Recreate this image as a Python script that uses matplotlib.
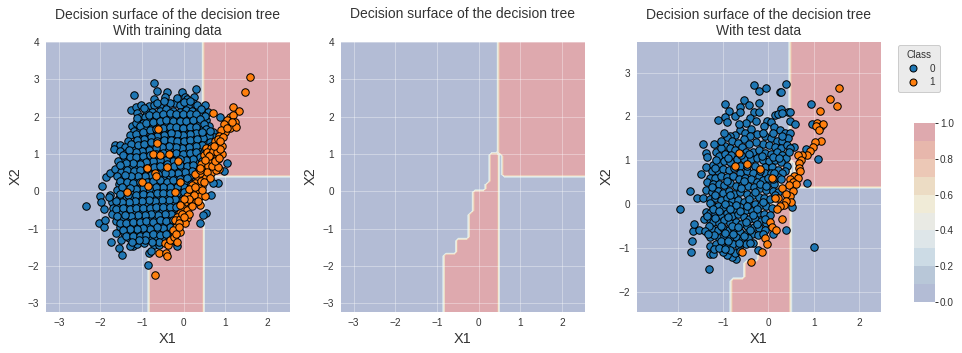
import numpy as np
import matplotlib
matplotlib.use("Agg")
import matplotlib.pyplot as plt
from matplotlib.colors import ListedColormap
from matplotlib.lines import Line2D

plt.rcParams.update({
    "font.family": ["Liberation Sans", "DejaVu Sans"],
    "axes.facecolor": "white", "axes.edgecolor": "white", "axes.grid": True,
    "grid.color": "white", "grid.linewidth": 1.0, "axes.linewidth": 1.0,
    "text.color": ".2", "axes.labelcolor": ".2",
    "xtick.color": ".2", "ytick.color": ".2",
    "xtick.major.size": 0, "ytick.major.size": 0,
})

TITLE_TREE = "Decision surface of the decision tree"
SUB_TITLES = ["With training data", "", "With test data"]
CLASS_LABELS = ["0", "1"]

# visible colours of the ten contour bands, low to high
band_colors = ["#B3BCD5", "#B8C7D8", "#CCDBE5", "#DEE6E9", "#E9EAE4",
               "#F0EBD7", "#ECDCC4", "#ECC8B6", "#E7B7AC", "#DEA9AE"]

# class-1 staircase of the tree: (upper y limit of step, left x of step)
stair_top = [-1.71, -1.30, -0.60, 0.0, 0.25, 1.0]
stair_left = [-0.80, -0.50, -0.21, -0.10, 0.21, 0.31]
band_right = 0.47
upper_left = 0.52
upper_notch_left = 0.59
upper_bottom = 0.43

train_class0 = [
(-2.35,-0.40),(-2.04,-0.86),(-1.92,-0.95),(-1.89,-0.77),(-2.00,-0.14),(-1.98,-0.29),(-1.92,-0.48),(-1.96,0.13),
(-1.87,0.37),(-1.78,0.48),(-1.65,0.59),(-1.65,1.24),(-1.53,1.23),(-1.68,1.13),(-1.74,-1.35),(-1.55,-1.51),
(-1.49,-1.70),(-1.21,-1.47),(-1.12,-1.42),(-0.96,-1.38),(-0.85,-1.99),(-0.84,-1.67),(-0.17,-1.47),(0.39,-0.86),
(0.53,-0.59),(0.47,-0.64),(0.65,-0.09),(0.83,0.22),(0.71,0.22),(0.96,0.54),(1.03,0.77),(0.87,1.99),
(0.58,2.12),(0.50,2.30),(0.29,2.74),(-0.03,2.67),(-0.41,2.66),(-0.71,2.91),(-0.63,2.68),(-1.20,2.58),
(-1.27,2.18),(-1.15,2.26),(-1.03,2.31),(-1.11,2.10),(-1.25,1.75),(-0.72,2.47),(-0.84,2.29),(-0.45,2.54),
(-0.22,2.38),(0.02,2.54),(0.07,2.47),(0.25,2.53),(0.22,2.36),(0.11,2.28),(-0.08,2.31),(-0.33,2.38),
(-0.56,2.32),(-0.72,2.30),(-0.90,2.16),(-1.05,1.98),(-0.92,2.00),(-0.75,2.12),(-0.58,2.15),(-0.42,2.20),
(-0.25,2.16),(-0.10,2.12),(0.06,2.18),(0.20,2.14),(0.36,2.18),(0.44,2.06),(0.30,1.98),(0.14,1.97),
(-0.02,1.96),(-0.18,1.98),(-0.34,2.00),(-0.50,1.97),(-0.66,1.96),(-0.82,1.90),(-0.98,1.82),(-1.14,1.83),
(-1.20,1.62),(-1.06,1.64),(-0.90,1.70),(-0.74,1.76),(-0.58,1.78),(-0.41,1.81),(-0.26,1.80),(-0.09,1.78),
(0.07,1.80),(0.22,1.81),(0.38,1.83),(0.54,1.92),(0.60,1.74),(0.47,1.68),(0.30,1.64),(0.14,1.62),
(-0.02,1.60),(-0.18,1.62),(-0.33,1.64),(-0.49,1.60),(-0.65,1.58),(-0.81,1.53),(-0.97,1.47),(-1.13,1.45),
(-1.29,1.52),(-1.34,1.36),(-1.18,1.30),(-1.02,1.32),(-0.87,1.36),(-0.71,1.40),(-0.55,1.43),(-0.39,1.46),
(-0.23,1.44),(-0.07,1.42),(0.08,1.46),(0.24,1.47),(0.40,1.50),(0.56,1.55),(0.70,1.58),(0.72,1.46),
(0.53,1.36),(0.37,1.32),(0.21,1.29),(0.05,1.27),(-0.11,1.25),(-0.27,1.28),(-0.43,1.30),(-0.58,1.26),
(-0.75,1.23),(-0.91,1.19),(-1.07,1.16),(-1.23,1.14),(-1.40,1.18),(-1.54,1.07),(-1.38,1.02),(-1.22,0.98),
(-1.06,1.01),(-0.90,1.03),(-0.74,1.06),(-0.58,1.10),(-0.42,1.13),(-0.26,1.10),(-0.10,1.08),(0.06,1.11),
(0.21,1.12),(0.37,1.14),(0.46,1.02),(0.30,0.97),(0.14,0.94),(-0.02,0.92),(-0.18,0.95),(-0.34,0.90),
(-0.66,0.92),(-0.82,0.88),(-0.98,0.85),(-1.14,0.82),(-1.30,0.84),(-1.46,0.86),(-1.58,0.80),(-1.44,0.68),
(-1.28,0.66),(-1.12,0.63),(-0.96,0.70),(-0.80,0.72),(-0.64,0.74),(-0.48,0.76),(-0.32,0.73),(-0.16,0.77),
(0.00,0.74),(0.15,0.78),(0.36,0.79),(0.30,0.62),(0.12,0.59),(-0.05,0.61),(-0.22,0.58),(-0.55,0.60),
(-0.70,0.56),(-0.86,0.52),(-1.02,0.49),(-1.18,0.47),(-1.34,0.50),(-1.50,0.52),(-1.60,0.40),(-1.45,0.34),
(-1.29,0.31),(-1.13,0.34),(-0.97,0.32),(-0.81,0.35),(-0.65,0.38),(-0.49,0.33),(-0.33,0.41),(-0.17,0.44),
(-0.01,0.42),(0.17,0.44),(0.26,0.28),(0.05,0.24),(-0.10,0.20),(-0.27,0.22),(-0.43,0.17),(-0.59,0.22),
(-0.75,0.18),(-0.91,0.15),(-1.22,0.14),(-1.38,0.17),(-1.56,0.20),(-1.60,0.03),(-1.44,-0.04),(-1.19,-0.02),
(-1.03,0.00),(-0.87,-0.03),(-0.71,0.02),(-0.55,0.04),(-0.39,0.01),(-0.23,0.05),(-0.07,0.03),(0.10,0.08),
(0.05,-0.12),(-0.12,-0.14),(-0.28,-0.11),(-0.44,-0.16),(-0.60,-0.13),(-0.76,-0.18),(-0.92,-0.15),(-1.08,-0.19),
(-1.24,-0.17),(-1.40,-0.21),(-1.56,-0.18),(-1.76,-0.10),(-1.72,-0.28),(-1.80,-0.16),(-1.70,-0.44),(-1.54,-0.36),
(-1.38,-0.39),(-1.22,-0.33),(-1.06,-0.37),(-0.90,-0.33),(-0.74,-0.36),(-0.58,-0.31),(-0.42,-0.34),(-0.26,-0.30),
(-0.10,-0.33),(-0.06,-0.50),(-0.22,-0.52),(-0.38,-0.49),(-0.54,-0.53),(-0.70,-0.50),(-0.86,-0.55),(-1.02,-0.52),
(-1.18,-0.56),(-1.34,-0.58),(-1.50,-0.55),(-1.72,-0.60),(-1.62,-0.79),(-1.46,-0.74),(-1.30,-0.77),(-1.14,-0.71),
(-0.98,-0.75),(-0.82,-0.70),(-0.66,-0.74),(-0.50,-0.69),(-0.34,-0.72),(-0.18,-0.69),(-0.03,-0.75),(-0.25,-0.88),
(-0.41,-0.91),(-0.57,-0.87),(-0.73,-0.92),(-0.89,-0.88),(-1.05,-0.93),(-1.21,-0.90),(-1.37,-0.94),(-1.53,-0.97),
(-1.62,-1.11),(-1.44,-1.13),(-1.28,-1.09),(-1.12,-1.12),(-0.96,-1.07),(-0.80,-1.11),(-0.64,-1.06),(-0.48,-1.09),
(-0.32,-1.04),(-0.36,-1.25),(-0.52,-1.27),(-0.68,-1.23),(-0.84,-1.29),(-1.00,-1.24),(-1.16,-1.30),(-1.32,-1.26),
(-1.50,-1.30),(-1.30,-1.48),(-0.72,-1.45),(-0.60,-1.44),(-0.78,-1.60),(-0.20,-1.33),
]
train_class0_dense = [
(-0.95,2.22),(-0.63,2.38),(-0.47,2.42),(-0.17,2.50),(0.00,2.40),(0.15,2.42),(0.31,2.30),(0.42,2.20),
(-1.12,1.97),(-0.83,2.05),(-0.67,2.05),(-0.50,2.08),(-0.34,2.10),(-0.18,2.08),(-0.02,2.08),(0.14,2.08),
(0.29,2.08),(0.50,2.02),(-1.05,1.74),(-0.90,1.83),(-0.74,1.87),(-0.58,1.88),(-0.42,1.90),(-0.26,1.88),
(-0.10,1.88),(0.06,1.88),(0.22,1.90),(0.38,1.93),(0.48,1.80),(-1.14,1.54),(-0.98,1.58),(-0.82,1.64),
(-0.66,1.68),(-0.50,1.70),(-0.34,1.72),(-0.18,1.71),(-0.02,1.70),(0.14,1.71),(0.30,1.73),(0.54,1.68),
(0.60,1.48),(0.46,1.42),(0.30,1.55),(0.15,1.54),(-0.01,1.51),(-0.16,1.53),(-0.31,1.55),(-0.47,1.52),
(-0.63,1.49),(-0.79,1.45),(-0.95,1.39),(-1.11,1.37),(-1.26,1.26),(-1.10,1.24),(-0.95,1.26),(-0.79,1.31),
(-0.63,1.35),(-0.47,1.38),(-0.31,1.37),(-0.15,1.35),(0.00,1.36),(0.16,1.38),(0.32,1.40),(0.62,1.32),
(0.66,1.20),(0.44,1.24),(0.29,1.21),(0.13,1.19),(-0.03,1.17),(-0.19,1.19),(-0.35,1.21),(-0.51,1.18),
(-0.67,1.15),(-0.83,1.11),(-0.99,1.08),(-1.15,1.06),(-1.31,1.10),(-1.46,0.96),(-1.30,0.93),(-1.14,0.92),
(-0.98,0.95),(-0.82,0.97),(-0.66,1.00),(-0.50,1.03),(-0.34,1.01),(-0.18,1.03),(-0.02,1.01),(0.14,1.03),
(0.30,1.05),(0.40,0.92),(0.22,0.87),(0.06,0.85),(-0.10,0.86),(-0.26,0.82),(-0.42,0.85),(-0.58,0.84),
(-0.74,0.80),(-0.90,0.78),(-1.06,0.74),(-1.22,0.75),(-1.38,0.77),(-1.52,0.70),(-1.36,0.58),(-1.20,0.55),
(-1.04,0.58),(-0.88,0.62),(-0.72,0.65),(-0.56,0.68),(-0.40,0.72),(-0.24,0.68),(-0.08,0.70),(0.07,0.68),
(0.22,0.70),(0.38,0.65),(0.20,0.53),(0.04,0.51),(-0.13,0.50),(-0.30,0.50),(-0.46,0.48),(-0.62,0.47),
(-0.78,0.44),(-0.94,0.41),(-1.10,0.40),(-1.26,0.41),(-1.42,0.43),(-1.52,0.28),(-1.37,0.25),(-1.21,0.23),
(-1.05,0.25),(-0.89,0.25),(-0.73,0.27),(-0.57,0.30),(-0.41,0.26),(-0.25,0.31),(-0.09,0.32),(0.08,0.35),
(0.18,0.20),(0.00,0.12),(-0.16,0.12),(-0.33,0.10),(-0.50,0.12),(-0.66,0.10),(-0.83,0.06),(-0.98,0.08),
(-1.14,0.07),(-1.30,0.08),(-1.47,0.10),(-1.52,-0.07),(-1.34,-0.11),(-1.14,-0.09),(-0.98,-0.08),(-0.80,-0.10),
(-0.65,-0.05),(-0.49,-0.06),(-0.32,-0.04),(-0.16,-0.06),(0.00,-0.03),(-0.03,-0.24),(-0.20,-0.22),(-0.36,-0.23),
(-0.52,-0.24),(-0.68,-0.27),(-0.84,-0.24),(-1.00,-0.27),(-1.16,-0.26),(-1.32,-0.30),(-1.48,-0.28),(-1.63,-0.27),
(-1.62,-0.47),(-1.46,-0.46),(-1.30,-0.48),(-1.14,-0.45),(-0.98,-0.44),(-0.82,-0.45),(-0.66,-0.42),(-0.50,-0.42),
(-0.34,-0.41),(-0.18,-0.41),(-0.14,-0.61),(-0.30,-0.61),(-0.46,-0.61),(-0.62,-0.63),(-0.78,-0.62),(-0.94,-0.64),
(-1.10,-0.63),(-1.26,-0.67),(-1.42,-0.65),(-1.60,-0.67),(-1.53,-0.86),(-1.38,-0.85),(-1.22,-0.82),(-1.06,-0.83),
(-0.90,-0.79),(-0.74,-0.83),(-0.58,-0.78),(-0.42,-0.81),(-0.26,-0.78),(-0.10,-0.85),(-0.32,-0.96),(-0.49,-0.99),
(-0.65,-0.97),(-0.81,-1.01),(-0.97,-0.98),(-1.13,-1.02),(-1.29,-1.01),(-1.45,-1.05),(-1.38,-1.20),(-1.22,-1.19),
(-1.06,-1.19),(-0.90,-1.18),(-0.74,-1.16),(-0.58,-1.17),(-0.42,-1.15),(-0.60,-1.35),(-0.76,-1.36),(-0.92,-1.30),
(-1.08,-1.31),(-1.24,-1.36),(0.44,1.60),(0.62,1.62),(0.50,1.10),(0.54,0.90),(0.44,0.80),(0.46,0.62),
]
train_class1 = [
(-0.68,-2.26),(1.60,3.07),(1.46,2.66),(0.71,2.10),(1.19,2.26),(1.33,2.14),(1.11,1.99),(1.19,2.05),
(1.05,1.92),(1.22,1.87),(0.97,1.81),(1.11,1.70),(1.25,1.72),(1.00,1.59),(0.90,1.63),(0.84,1.47),
(0.76,1.34),(0.93,1.22),(0.53,1.17),(0.65,1.17),(0.79,1.22),(0.49,0.96),(0.75,0.93),(0.91,1.01),
(0.83,0.86),(0.69,0.82),(0.59,0.80),(0.49,0.71),(0.42,0.74),(0.47,0.58),(0.61,0.62),(0.85,0.59),
(0.65,0.48),(0.51,0.39),(0.35,0.35),(0.27,0.23),(0.19,0.17),(0.45,0.14),(0.31,0.03),(0.19,0.00),
(0.07,-0.14),(0.23,-0.23),(0.39,-0.14),(0.51,-0.13),(0.38,-0.38),(0.15,-0.32),(0.03,-0.30),(-0.05,-0.41),
(0.07,-0.50),(-0.09,-0.59),(-0.17,-0.68),(-0.21,-0.77),(0.07,-0.73),(-0.01,-0.79),(-0.19,-0.95),(-0.09,-1.09),
(-0.45,-1.38),(-0.37,-1.44),(-0.33,-1.31),(-0.23,-1.22),(-0.17,-1.35),(-0.59,-1.67),(-0.42,-1.67),(-0.41,-1.74),
(-0.62,1.67),(-0.63,1.29),(-0.74,1.00),(-0.58,0.96),(-0.36,1.00),(-0.14,0.81),(-0.89,0.62),(-0.40,0.64),
(-0.69,0.48),(-0.67,0.40),(-1.01,0.24),(-0.85,0.13),(-0.10,0.26),(-1.35,-0.03),(-0.20,-0.02),
(0.55,1.05),(0.62,0.98),(0.70,1.08),(0.80,1.05),(0.88,1.12),(0.58,0.68),(0.72,0.70),(0.78,0.58),
(0.40,0.50),(0.55,0.52),(0.35,0.15),(0.28,0.45),(0.42,0.28),(0.12,0.05),(0.25,-0.10),(0.13,-0.22),
(0.30,-0.30),(0.00,-0.22),(-0.10,-0.75),(-0.03,-0.62),(0.02,-0.86),(-0.12,-0.85),(-0.25,-1.05),(-0.18,-1.15),
(0.82,1.40),(0.95,1.45),(0.72,1.22),(1.05,1.70),(0.88,1.35),(1.15,1.85),(0.39,0.57),(0.67,0.68),
(0.83,0.66),(0.75,0.80),(0.85,0.89),(0.61,0.95),(0.51,0.84),(0.39,0.62),(0.62,0.36),(0.49,0.26),
(0.43,0.02),(0.27,0.12),(0.35,-0.25),(0.20,-0.40),(-0.08,-0.38),(0.13,-0.60),(0.00,-0.68),(-0.12,-0.95),
]
test_class0 = [
(-1.94,-0.12),(-1.73,0.31),(-1.70,-1.10),(-1.68,-0.83),(-1.66,-0.62),(-1.64,-0.45),(-1.53,-0.58),(-1.58,0.13),
(-1.44,0.15),(-1.49,0.68),(-1.44,1.38),(-1.38,1.16),(-1.35,1.07),(-1.37,0.85),(-1.20,1.36),(-1.16,1.19),
(-1.31,-1.47),(-1.29,-1.13),(-1.23,-1.13),(-1.29,-0.96),(-1.29,-0.76),(-1.11,1.92),(-0.95,2.28),(-0.86,2.13),
(-0.95,1.98),(-0.92,1.87),(-0.73,2.02),(-0.63,2.21),(-0.63,2.09),(-0.53,2.37),(-0.44,2.25),(-0.32,2.71),
(-0.22,2.58),(-0.05,2.64),(-0.20,2.30),(0.25,2.55),(0.28,2.55),(0.38,2.73),(0.27,2.16),(0.44,2.09),
(0.47,2.09),(0.48,1.89),(0.59,1.82),(0.94,2.28),(0.95,1.82),(0.57,1.30),(0.84,0.49),(0.83,1.26),
(1.10,1.04),(1.00,-0.98),(0.38,-0.60),(0.51,-0.06),(-0.72,-1.26),(-0.81,-1.20),(-0.92,-1.16),(-0.74,-1.12),
(-0.35,-0.88),(-0.24,-1.05),(0.10,-0.67),(-0.33,2.10),(-0.22,2.09),(-0.40,1.96),(-0.50,1.84),(-0.28,1.90),
(-0.03,1.89),(0.05,1.88),(0.15,2.04),(0.22,2.05),(0.30,2.08),(-0.10,1.78),(0.12,1.75),(0.25,1.70),
(0.36,1.62),(0.47,1.62),(-0.62,1.70),(-0.52,1.63),(-0.38,1.72),(-0.25,1.60),(-0.40,1.55),(-0.55,1.48),
(-0.73,1.58),(-0.85,1.55),(-0.92,1.52),(-0.80,1.45),(-0.68,1.40),(-0.08,1.56),(0.05,1.50),(0.18,1.45),
(0.30,1.43),(0.43,1.50),(-0.12,1.38),(-0.28,1.42),(-0.42,1.36),(-0.58,1.30),(0.02,1.34),(0.15,1.30),
(0.27,1.28),(0.40,1.34),(0.48,1.28),(-0.95,1.33),(-1.05,1.28),(-0.85,1.27),(-0.73,1.24),(-0.50,1.18),
(-0.34,1.20),(-0.20,1.24),(-0.08,1.17),(0.05,1.14),(0.18,1.18),(0.30,1.12),(0.38,1.05),(0.46,1.20),
(-1.08,1.10),(-0.95,1.15),(-0.82,1.12),(-0.70,1.03),(-0.55,1.02),(-0.38,1.04),(-0.25,1.05),(-0.12,1.00),
(0.02,0.98),(0.15,1.00),(0.27,0.95),(0.40,0.88),(0.37,0.75),(-1.22,0.90),(-1.10,0.92),(-0.97,0.98),
(-0.85,0.95),(-0.62,0.88),(-0.30,0.88),(-0.07,0.85),(0.07,0.85),(0.20,0.78),(0.30,0.70),(0.20,0.62),
(-1.25,0.75),(-1.12,0.76),(-1.00,0.80),(-0.88,0.78),(-0.62,0.72),(-0.48,0.75),(-0.35,0.72),(-0.22,0.65),
(-0.08,0.70),(0.05,0.72),(0.02,0.48),(-1.30,0.60),(-1.17,0.60),(-1.05,0.63),(-0.92,0.62),(-0.78,0.65),
(-0.65,0.58),(-0.52,0.60),(-0.38,0.57),(-0.25,0.50),(-0.12,0.54),(0.12,0.45),(-1.35,0.50),(-1.22,0.45),
(-1.10,0.47),(-0.97,0.44),(-0.85,0.48),(-0.72,0.42),(-0.58,0.44),(-0.45,0.41),(-0.32,0.38),(-0.18,0.36),
(-0.05,0.33),(0.10,0.30),(0.22,0.28),(-1.37,0.32),(-1.25,0.28),(-1.12,0.30),(-1.00,0.26),(-0.87,0.30),
(-0.75,0.24),(-0.62,0.27),(-0.48,0.22),(-0.35,0.20),(-0.22,0.17),(-0.10,0.14),(0.03,0.12),(-1.30,0.12),
(-1.18,0.13),(-1.05,0.10),(-0.92,0.14),(-0.80,0.06),(-0.67,0.10),(-0.55,0.05),(-0.42,0.03),(-0.30,0.00),
(-0.17,-0.02),(-0.05,-0.05),(0.08,-0.08),(-1.38,-0.17),(-1.30,-0.20),(-1.25,-0.03),(-1.12,-0.04),(-1.00,-0.08),
(-0.87,-0.03),(-0.75,-0.10),(-0.62,-0.07),(-0.50,-0.13),(-0.37,-0.15),(-0.24,-0.20),(-0.10,-0.22),(0.03,-0.25),
(-1.42,-0.33),(-1.30,-0.35),(-1.17,-0.22),(-1.05,-0.25),(-0.92,-0.20),(-0.80,-0.27),(-0.67,-0.22),(-0.55,-0.30),
(-0.42,-0.33),(-0.30,-0.35),(-0.17,-0.38),(-0.05,-0.42),(-1.22,-0.40),(-1.10,-0.42),(-0.97,-0.37),(-0.85,-0.43),
(-0.72,-0.40),(-0.60,-0.45),(-0.47,-0.50),(-0.33,-0.52),(-0.20,-0.55),(-0.07,-0.60),(-1.25,-0.57),(-1.12,-0.60),
(-1.00,-0.55),(-0.87,-0.60),(-0.75,-0.57),(-0.62,-0.63),(-0.50,-0.68),(-0.36,-0.67),(-0.23,-0.70),(-1.10,-0.78),
(-0.97,-0.72),(-0.85,-0.78),(-0.72,-0.75),(-0.58,-0.82),(-0.45,-0.78),(-1.15,-0.92),(-1.02,-0.90),(-0.90,-0.95),
(-0.78,-0.92),(-0.65,-0.98),(-0.50,-0.92),(-1.00,-1.10),(-0.85,-1.05),
(-1.05,1.45),(-0.98,1.62),(-0.65,1.82),(-0.12,1.62),(0.10,1.62),(0.30,1.55),(-1.15,1.00),(-0.90,1.05),
(-0.60,1.12),(-0.42,1.14),(-0.15,1.10),(0.10,1.07),(0.24,1.05),(-1.18,0.83),(-0.75,0.82),(-0.48,0.86),
(-0.18,0.76),(0.12,0.72),(0.28,0.58),(0.10,0.58),(-0.02,0.60),(-1.25,0.38),(-0.92,0.53),(-0.55,0.52),
(-0.18,0.45),(-0.05,0.42),(0.14,0.20),(-0.60,0.36),(-0.30,0.28),(-0.85,0.20),(-1.18,0.21),(-0.42,0.12),
(-0.12,0.04),(-0.72,-0.02),(-0.95,0.00),(-1.30,0.02),(-1.22,-0.12),(-0.47,-0.05),(-0.25,-0.10),(-0.08,-0.33),
(-0.35,-0.25),(-0.62,-0.15),(-0.85,-0.12),(-1.10,-0.15),(-1.35,-0.27),(-1.18,-0.32),(-0.90,-0.30),(-0.50,-0.40),
(-0.25,-0.46),(-0.80,-0.50),(-1.05,-0.50),(-1.32,-0.50),(-1.40,-0.62),(-1.20,-0.70),(-0.95,-0.65),(-0.68,-0.52),
(-0.40,-0.60),(-0.12,-0.68),(-1.33,-0.68),(-1.05,-0.85),(-0.78,-0.68),(-0.55,-0.72),(-0.90,-0.85),(-0.65,-0.88),
(-0.40,-0.88),(-1.20,-1.03),(-1.08,-1.00),(-0.95,-1.03),(-0.62,-1.08),
]
test_class1 = [
(1.56,2.64),(1.36,2.39),(1.50,2.24),(1.14,2.12),(1.06,1.84),(1.15,1.78),(1.20,1.83),(1.04,1.78),
(1.12,1.69),(1.16,1.45),(1.02,1.41),(0.99,1.31),(0.92,1.22),(0.84,1.12),(0.73,1.13),(0.64,1.13),
(0.71,1.00),(0.68,0.93),(0.67,0.83),(0.70,0.76),(0.57,0.65),(0.64,0.60),(0.47,0.57),(0.53,0.51),
(0.60,0.45),(0.46,0.43),(0.54,0.30),(0.48,0.19),(0.29,0.37),(0.22,0.15),(0.14,0.15),(0.38,0.24),
(0.49,0.05),(0.38,0.07),(0.34,-0.01),(0.25,-0.05),(0.18,-0.10),(0.30,-0.34),(0.04,-0.40),(0.08,-0.53),
(0.16,-0.58),(-0.07,-0.78),(-0.04,-0.90),(-0.15,-1.10),(-0.38,-1.33),(-0.58,-1.10),(-0.64,1.16),(-0.73,0.86),
(-0.47,0.91),(-0.18,0.81),(0.08,0.60),
]

TRAIN_XLIM, TRAIN_YLIM = (-3.33, 2.55), (-3.24, 4.03)
TEST_XLIM, TEST_YLIM = (-2.92, 2.48), (-2.46, 3.72)
GRID_STEP = 0.1
W, H = 962, 353


def surface(xlim, ylim):
    xs = np.arange(xlim[0] - GRID_STEP / 2, xlim[1] + GRID_STEP, GRID_STEP)
    ys = np.arange(ylim[0], ylim[1] + GRID_STEP, GRID_STEP)
    xx, yy = np.meshgrid(xs, ys)
    zz = np.zeros_like(xx)
    low = -np.inf
    for top, left in zip(stair_top, stair_left):
        zz[(yy > low) & (yy <= top) & (xx > left) & (xx <= band_right)] = 1
        low = top
    zz[(yy > stair_top[-1]) & (xx > upper_left)] = 1
    zz[(yy > upper_bottom) & (yy <= stair_top[-1]) & (xx > upper_notch_left)] = 1
    return xx, yy, zz


def rect(l, t, r, b):
    return [l / W, 1 - b / H, (r - l) / W, (b - t) / H]


fig = plt.figure(figsize=(W / 72, H / 72), dpi=72, facecolor="white")
axes = [fig.add_axes(rect(45, 41, 290, 312)),
        fig.add_axes(rect(340, 41, 585, 312)),
        fig.add_axes(rect(636, 41, 881, 312))]
limits = [(TRAIN_XLIM, TRAIN_YLIM), (TRAIN_XLIM, TRAIN_YLIM), (TEST_XLIM, TEST_YLIM)]
datasets = [(train_class0 + train_class0_dense, train_class1), None, (test_class0, test_class1)]
cmap = ListedColormap(band_colors)

cs = None
for ax, (xl, yl), data, sub in zip(axes, limits, datasets, SUB_TITLES):
    xx, yy, zz = surface(xl, yl)
    cs = ax.contourf(xx, yy, zz, cmap=cmap, levels=np.linspace(0, 1, 11), antialiased=False)
    if data is not None:
        for pts, col in zip(data, ["tab:blue", "tab:orange"]):
            arr = np.array(pts)
            ax.scatter(arr[:, 0], arr[:, 1], s=56, c=col, edgecolors="black", linewidths=1.0, zorder=3)
    ax.set_xlim(xl)
    ax.set_ylim(yl)
    ax.grid(True, color="white", alpha=0.35, linewidth=1.0, zorder=2)
    ax.set_axisbelow(False)
    ax.tick_params(labelsize=10, pad=6)
    ax.set_xlabel("X1", fontsize=14.5, labelpad=4)
    ax.set_ylabel("X2", fontsize=14.5, labelpad=5)
    ax.set_title(TITLE_TREE + ("\n" + sub if sub else ""), fontsize=13.9, pad=6 if sub else 23)
    for s in ax.collections[-2:] if data is not None else []:
        s.set_zorder(3)

handles = [Line2D([], [], ls="", marker="o", ms=7, mfc=c, mec="black", mew=1.0)
           for c in ["tab:blue", "tab:orange"]]
axes[2].legend(handles, CLASS_LABELS, title="Class", loc="upper left", bbox_to_anchor=(1.068, 0.985),
               facecolor="#EBEBEB", edgecolor="#CCCCCC", framealpha=1, fontsize=10, title_fontsize=10,
               borderaxespad=0, handletextpad=0.7, labelspacing=0.35, borderpad=0.5)

cax = fig.add_axes(rect(914, 123, 935, 302))
cb = fig.colorbar(cs, cax=cax, ticks=[0, 0.2, 0.4, 0.6, 0.8, 1.0])
cb.outline.set_visible(False)
cax.tick_params(length=3, width=1, labelsize=10, pad=2, color=".2")
cax.grid(False)

fig.savefig("out.png", dpi=72)
